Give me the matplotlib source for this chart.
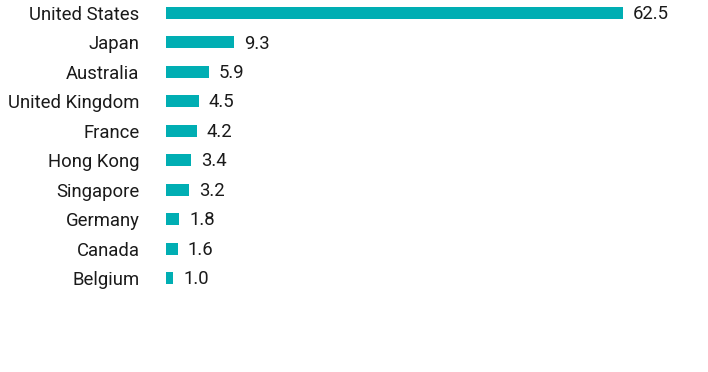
import matplotlib.pyplot as plt

# 국가별 비중 데이터
countries = ['United States', 'Japan', 'Australia', 'United Kingdom', 'France',
             'Hong Kong', 'Singapore', 'Germany', 'Canada', 'Belgium']
values = [62.5, 9.3, 5.9, 4.5, 4.2, 3.4, 3.2, 1.8, 1.6, 1.0]

plt.rcParams['font.family'] = ['Roboto', 'DejaVu Sans']

fig = plt.figure(figsize=(7.08, 3.72), dpi=100)
ax = fig.add_axes([166 / 708, 0, (700 - 166) / 708, 1])

pos = list(range(len(countries)))
ax.barh(pos, values, height=0.41, color='#00AEB3')

# 값 레이블
for p, v in zip(pos, values):
    ax.text(v + 1.35, p + 0.04, f'{v:.1f}', va='center', ha='left',
            fontsize=13.3, color='#1a1a1a')

ax.set_xlim(0, (700 - 166) / 7.312)
ax.set_ylim(12.19, -0.44)
ax.set_yticks(pos)
ax.set_yticklabels(countries, fontsize=13.3, color='#1a1a1a')
ax.tick_params(axis='y', length=0, pad=19)
ax.set_xticks([])
for s in ax.spines.values():
    s.set_visible(False)

fig.savefig('out.png', dpi=100)
